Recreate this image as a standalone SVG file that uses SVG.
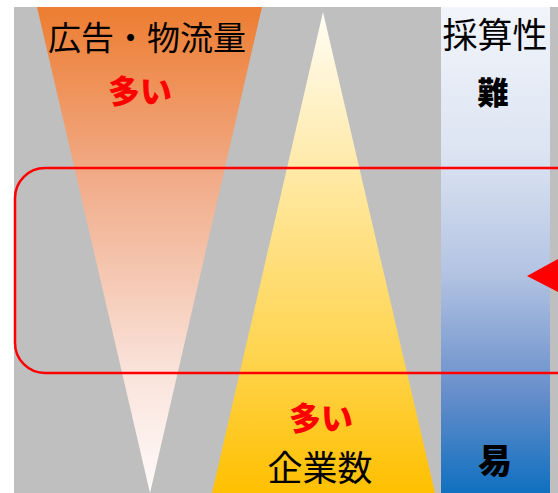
<svg xmlns="http://www.w3.org/2000/svg" width="558" height="493" viewBox="0 0 558 493">
<defs>
<linearGradient id="gOrange" x1="0" y1="7" x2="0" y2="493" gradientUnits="userSpaceOnUse">
<stop offset="0" stop-color="#ed7d31"/>
<stop offset="0.35" stop-color="#f1ab88"/>
<stop offset="0.75" stop-color="#f9e3da"/>
<stop offset="1" stop-color="#fffafa"/>
</linearGradient>
<linearGradient id="gYellow" x1="0" y1="12" x2="0" y2="493" gradientUnits="userSpaceOnUse">
<stop offset="0" stop-color="#fffdf5"/>
<stop offset="0.33" stop-color="#ffe9a6"/>
<stop offset="0.75" stop-color="#ffd246"/>
<stop offset="1" stop-color="#ffc000"/>
</linearGradient>
<linearGradient id="gBlue" x1="0" y1="7" x2="0" y2="493" gradientUnits="userSpaceOnUse">
<stop offset="0" stop-color="#f2f5fb"/>
<stop offset="0.3" stop-color="#dce4f2"/>
<stop offset="0.55" stop-color="#b3c3e2"/>
<stop offset="0.8" stop-color="#658dca"/>
<stop offset="1" stop-color="#1070c0"/>
</linearGradient>
<style>
text{font-family:"Noto Sans CJK JP","Noto Sans CJK SC",sans-serif;text-anchor:middle}
.lbl{fill:#000;font-size:33px}
.red{fill:#ff0000;font-size:32px;font-weight:900}
.bold{fill:#000;font-size:31px;font-weight:900}
</style>
</defs>
<rect id="background" x="14" y="7" width="544" height="486" fill="#bfbfbf"/>
<g id="ad-volume">
<polygon points="37,7 262,7 150,493" fill="url(#gOrange)"/>
<text class="lbl" x="147" y="50">広告・物流量</text>
<text class="red" x="140" y="103">多い</text>
</g>
<g id="companies">
<polygon points="323,12 435,493 212,493" fill="url(#gYellow)"/>
<text class="red" x="321" y="430">多い</text>
<text class="lbl" x="320" y="481" style="font-size:35px">企業数</text>
</g>
<g id="profitability">
<rect x="441" y="7" width="109" height="486" fill="url(#gBlue)"/>
<text class="lbl" x="495" y="48" style="font-size:35px">採算性</text>
<text class="bold" x="493" y="104">難</text>
<text class="bold" x="495" y="473" style="font-size:34px">易</text>
</g>
<g id="connectors">
<rect x="15" y="168" width="580" height="205" rx="30" ry="30" fill="none" stroke="#ff0000" stroke-width="2.5"/>
<polygon points="527,276 560,258 560,293" fill="#ff0000"/>
</g>
</svg>
